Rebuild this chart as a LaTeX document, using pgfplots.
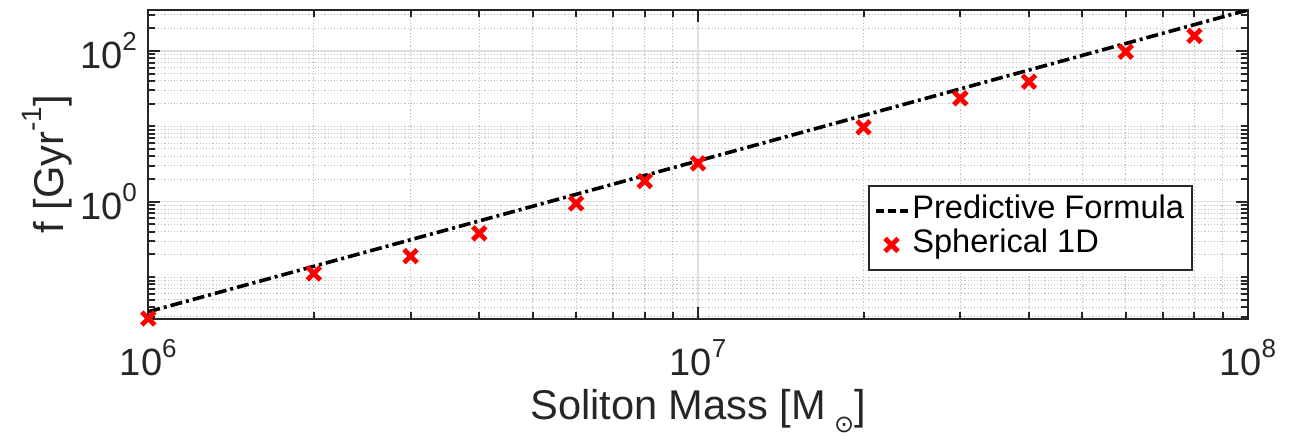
\documentclass[border=0pt]{standalone}
\usepackage{pgfplots}
\pgfplotsset{compat=1.18}
\usepackage{fontspec}
\setmainfont{Liberation Sans}
\newfontfamily\dejavu{DejaVu Sans}
\definecolor{axc}{HTML}{262626}
\definecolor{majg}{HTML}{E1E1E1}
\definecolor{ming}{HTML}{BEBEBE}
\newcommand\tsup[1]{\raisebox{9pt}{\fontsize{13}{13}\selectfont #1}}
\pgfplotsset{
  lineleg/.style={legend image code/.code={\draw[##1, dash pattern=on 4pt off 2pt] (0pt,0pt) -- (16pt,0pt);}},
  markleg/.style={legend image code/.code={\draw[##1] plot coordinates {(8pt,0pt)};}},
}
\begin{document}
\begin{tikzpicture}
\begin{axis}[
  at={(0pt,0pt)}, anchor=south west,
  scale only axis, width=549.7pt, height=154.25pt,
  xmode=log, ymode=log,
  xmin=1e6, xmax=1e8, ymin=0.0283, ymax=348,
  xtick={1e6,1e7,1e8},
  xticklabels={10\tsup{6},10\tsup{7},10\tsup{8}},
  ytick={1,100},
  yticklabels={10\tsup{0},10\tsup{2}},
  minor xtick={2e6,3e6,4e6,5e6,6e6,7e6,8e6,9e6,2e7,3e7,4e7,5e7,6e7,7e7,8e7,9e7},
  minor ytick={0.03,0.04,0.05,0.06,0.07,0.08,0.09,0.1,0.2,0.3,0.4,0.5,0.6,0.7,0.8,0.9,2,3,4,5,6,7,8,9,10,20,30,40,50,60,70,80,90,200,300},
  grid=both,
  major grid style={solid, majg, line width=0.65pt},
  minor grid style={ming, line width=0.5pt, dash pattern=on 0.6pt off 1pt},
  axis line style={axc, line width=1pt},
  tick style={axc, line width=1pt},
  major tick length=6pt, minor tick length=3.5pt,
  tick align=inside,
  tick label style={font=\fontsize{19}{22}\selectfont, text=axc},
  xticklabel style={anchor=base, yshift=-28.5pt, inner sep=0pt},
  yticklabel style={anchor=east, xshift=-5.5pt, inner sep=0pt},
  xlabel={Soliton Mass [M\hspace{4pt}\raisebox{-6.3pt}{\fontsize{12}{12}\selectfont\dejavu ⊙}]},
  xlabel style={at={(axis description cs:0.5,-0.3284)}, anchor=base, font=\fontsize{20.8}{24}\selectfont, text=axc},
  ylabel={f [Gyr\raisebox{11pt}{\fontsize{14}{14}\selectfont -1}]},
  ylabel style={at={(axis description cs:-0.0773,0.5)}, anchor=base, font=\fontsize{20.8}{24}\selectfont, text=axc},
  legend style={at={(axis description cs:0.9502,0.4327)}, anchor=north east, draw=axc, line width=0.9pt, fill=white,
    font=\fontsize{16.3}{19}\selectfont, inner xsep=2.5pt, inner ysep=4pt, row sep=0pt,
    nodes={text height=12pt, text depth=4pt, inner ysep=0.5pt, inner xsep=1.5pt}},
  legend cell align=left,
]
\addplot[black, line width=1.8pt, dash pattern=on 6pt off 2pt on 1.5pt off 2pt, lineleg]
  coordinates {(1e6,0.0348) (1e8,348)};
\addlegendentry{Predictive Formula}
\addplot[only marks, mark=x, mark size=4.6pt, red, line width=2.4pt, markleg]
  coordinates {
  (1e6,0.0283) (2e6,0.112) (3e6,0.19) (4e6,0.381) (6e6,0.95) (8e6,1.88)
  (1e7,3.23) (2e7,9.7) (3e7,23.5) (4e7,39) (6e7,97.5) (8e7,158)
  };
\addlegendentry{Spherical 1D}
\end{axis}
\pgfresetboundingbox
\path[use as bounding box] (-74.15pt,-58.75pt) rectangle (571.35pt,159.25pt);
\end{tikzpicture}
\end{document}
